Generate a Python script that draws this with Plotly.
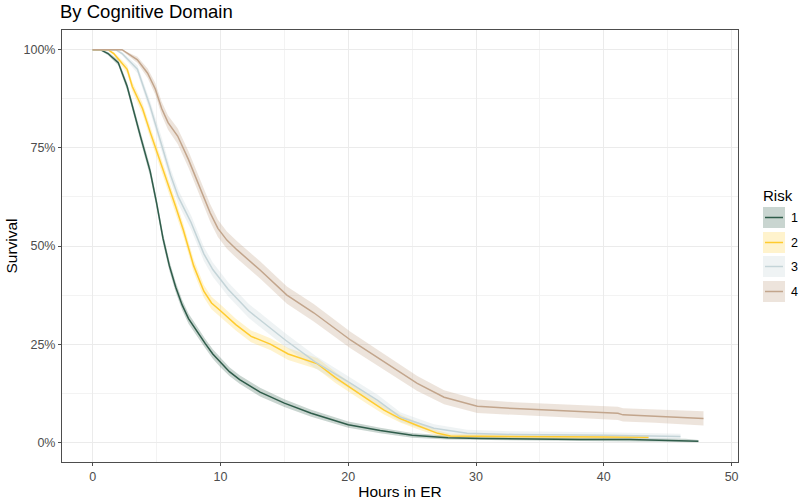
import plotly.graph_objects as go

# ---------------- data ----------------
groups = ["1", "2", "3", "4"]

t1 = [0, 0.6, 1.2, 2.0, 2.7, 3.1, 3.75, 4.5, 5.0, 5.5, 6.0, 6.5, 7.0, 7.5, 8.2, 8.8, 9.4, 10, 10.7, 11.5, 13.1, 15, 17.1, 20, 22.5, 25, 27.8, 30.4, 35, 38.2, 42, 46.4, 47.4]
s1 = [1, 1, 0.99, 0.967, 0.906, 0.855, 0.778, 0.69, 0.61, 0.52, 0.45, 0.395, 0.35, 0.315, 0.28, 0.252, 0.225, 0.203, 0.18, 0.16, 0.128, 0.100, 0.074, 0.045, 0.03, 0.018, 0.012, 0.01, 0.008, 0.007, 0.007, 0.005, 0.003]
h1 = [0, 0.002, 0.004, 0.007, 0.01, 0.011, 0.012, 0.013, 0.013, 0.013, 0.013, 0.013, 0.013, 0.013, 0.013, 0.012, 0.012, 0.012, 0.011, 0.011, 0.011, 0.01, 0.009, 0.008, 0.007, 0.006, 0.005, 0.004, 0.004, 0.004, 0.004, 0.004, 0.003]

t2 = [0, 1.2, 1.65, 2.7, 3.1, 3.9, 4.5, 5.3, 6.5, 7.1, 7.9, 8.7, 9.3, 10, 11.2, 12.4, 13.9, 15.3, 17.6, 19, 20.2, 21.5, 22.8, 24.1, 25.4, 27, 28, 32, 38, 43.5]
s2 = [1, 1, 0.99, 0.95, 0.906, 0.85, 0.79, 0.715, 0.60, 0.54, 0.45, 0.385, 0.355, 0.335, 0.30, 0.27, 0.25, 0.225, 0.2, 0.165, 0.138, 0.11, 0.082, 0.06, 0.043, 0.023, 0.016, 0.015, 0.014, 0.013]
h2 = [0, 0.002, 0.004, 0.01, 0.012, 0.014, 0.015, 0.016, 0.016, 0.016, 0.016, 0.016, 0.016, 0.016, 0.015, 0.015, 0.015, 0.015, 0.014, 0.014, 0.013, 0.012, 0.011, 0.01, 0.009, 0.007, 0.006, 0.006, 0.006, 0.006]

t3 = [0, 1.8, 2.3, 3.0, 3.5, 4.5, 5.4, 6.1, 6.7, 7.7, 8.7, 9.4, 10.6, 12.2, 15.1, 17.4, 20.2, 22.3, 24.1, 25.4, 26.7, 29.3, 33, 40, 46]
s3 = [1, 1, 0.99, 0.967, 0.95, 0.855, 0.76, 0.68, 0.625, 0.56, 0.48, 0.44, 0.39, 0.335, 0.26, 0.205, 0.15, 0.107, 0.064, 0.05, 0.036, 0.023, 0.02, 0.018, 0.015]
h3 = [0, 0.002, 0.004, 0.008, 0.01, 0.014, 0.016, 0.017, 0.018, 0.018, 0.018, 0.018, 0.018, 0.018, 0.017, 0.016, 0.015, 0.014, 0.012, 0.011, 0.01, 0.009, 0.008, 0.008, 0.007]

t4 = [0, 2.3, 3.5, 4.3, 4.9, 5.4, 5.9, 6.65, 7.5, 8.5, 9.2, 9.8, 10.5, 11.3, 13.1, 15.2, 17.3, 20.2, 22.8, 25.4, 27.5, 30.1, 33, 35.8, 38.2, 41.1, 41.5, 44, 47.8]
s4 = [1, 1, 0.974, 0.94, 0.9, 0.85, 0.814, 0.78, 0.72, 0.64, 0.584, 0.545, 0.515, 0.49, 0.439, 0.375, 0.33, 0.26, 0.205, 0.15, 0.115, 0.092, 0.086, 0.082, 0.079, 0.074, 0.07, 0.067, 0.061]
h4 = [0, 0.003, 0.008, 0.012, 0.015, 0.017, 0.018, 0.02, 0.021, 0.022, 0.022, 0.022, 0.022, 0.022, 0.022, 0.022, 0.022, 0.021, 0.02, 0.019, 0.018, 0.017, 0.016, 0.016, 0.016, 0.017, 0.017, 0.017, 0.018]

x_ticks = [0, 10, 20, 30, 40, 50]
y_ticks = [0, 0.25, 0.5, 0.75, 1.0]
y_tick_labels = ["0%", "25%", "50%", "75%", "100%"]

line_colors = ["#2F5C4A", "#FFCB2E", "#C4D4D8", "#C2A58C"]
band_colors = ["rgba(47,92,74,0.26)", "rgba(255,203,46,0.24)", "rgba(196,212,216,0.28)", "rgba(194,165,140,0.30)"]

series = [(t1, s1, h1), (t2, s2, h2), (t3, s3, h3), (t4, s4, h4)]

# ---------------- figure ----------------
fig = go.Figure()

for (t, s, h), bc in zip(series, band_colors):
    lo = [max(v - d, 0) for v, d in zip(s, h)]
    hi = [min(v + d, 1) for v, d in zip(s, h)]
    fig.add_trace(go.Scatter(x=t, y=lo, mode="lines", line=dict(width=0),
                             hoverinfo="skip", showlegend=False))
    fig.add_trace(go.Scatter(x=t, y=hi, mode="lines", line=dict(width=0),
                             fill="tonexty", fillcolor=bc,
                             hoverinfo="skip", showlegend=False))

for (t, s, h), lc, g in zip(series, line_colors, groups):
    fig.add_trace(go.Scatter(x=t, y=s, mode="lines", name=g,
                             line=dict(color=lc, width=1.5), showlegend=False))

# plot area geometry in pixels
W, H = 800, 501
L, R, T, B = 62, 738, 30, 462


def px(xp):
    return (xp - L) / (R - L)


def py(yp):
    return (B - yp) / (B - T)


# custom ggplot-like legend
shapes = []
annotations = []
box_tops = [207, 232, 256, 281]
for top, lc, bc, g in zip(box_tops, line_colors, band_colors, groups):
    shapes.append(dict(type="rect", xref="paper", yref="paper",
                       x0=px(763), x1=px(785), y0=py(top + 21), y1=py(top),
                       fillcolor=bc, line=dict(width=0)))
    shapes.append(dict(type="line", xref="paper", yref="paper",
                       x0=px(765), x1=px(783), y0=py(top + 10.5), y1=py(top + 10.5),
                       line=dict(color=lc, width=1.5)))
    annotations.append(dict(text=g, xref="paper", yref="paper",
                            x=px(789), y=py(top + 10.5), xanchor="left", yanchor="middle",
                            showarrow=False, font=dict(size=12.5, color="#000000")))
annotations.append(dict(text="Risk", xref="paper", yref="paper",
                        x=px(761), y=py(195), xanchor="left", yanchor="middle",
                        showarrow=False, font=dict(size=15, color="#000000")))

grid = "#EBEBEB"
fig.update_layout(
    width=W, height=H,
    margin=dict(l=L, r=W - R, t=T, b=H - B),
    paper_bgcolor="white", plot_bgcolor="white",
    font=dict(family="Liberation Sans, Arial, sans-serif", color="#000000"),
    title=dict(text="By Cognitive Domain", x=60 / W, xanchor="left", xref="container",
               y=1 - 12 / H, yanchor="middle", yref="container",
               font=dict(size=18.5, color="#000000")),
    shapes=shapes,
    annotations=annotations,
    showlegend=False,
)
fig.update_xaxes(
    range=[-2.4, 50.5], tickvals=x_ticks, ticktext=[str(v) for v in x_ticks],
    showgrid=True, gridcolor=grid, gridwidth=1,
    minor=dict(dtick=5, tick0=0, showgrid=True, gridcolor="#F3F3F3", gridwidth=0.8),
    zeroline=False, showline=True, mirror=True, linecolor="#4D4D4D", linewidth=1,
    ticks="outside", ticklen=3, tickcolor="#4D4D4D",
    tickfont=dict(size=12.5, color="#4D4D4D"),
    title=dict(text="Hours in ER", font=dict(size=15.5, color="#000000"), standoff=3),
    automargin=False,
)
fig.update_yaxes(
    range=[-0.05, 1.05], tickvals=y_ticks, ticktext=y_tick_labels,
    showgrid=True, gridcolor=grid, gridwidth=1,
    minor=dict(dtick=0.125, tick0=0, showgrid=True, gridcolor="#F3F3F3", gridwidth=0.8),
    zeroline=False, showline=True, mirror=True, linecolor="#4D4D4D", linewidth=1,
    ticks="outside", ticklen=3, tickcolor="#4D4D4D",
    tickfont=dict(size=12.5, color="#4D4D4D"),
    title=dict(text="Survival", font=dict(size=15.5, color="#000000"), standoff=2),
    automargin=False,
)

fig.write_html("out.html", config={"displayModeBar": False},
               post_script="document.body.style.margin='0';")
